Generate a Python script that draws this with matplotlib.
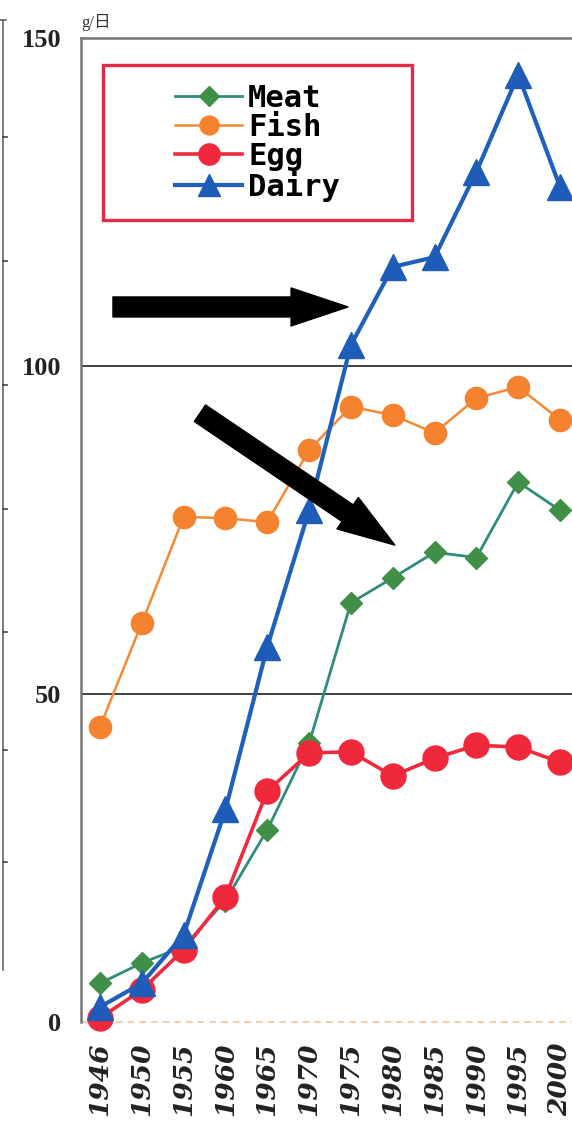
import matplotlib
matplotlib.use("Agg")
import numpy as np
import matplotlib.pyplot as plt
from matplotlib.lines import Line2D
from matplotlib.patches import Rectangle

# Daily intake per person (g/day) by survey year
years = ["1946", "1950", "1955", "1960", "1965", "1970",
         "1975", "1980", "1985", "1990", "1995", "2000"]
meat = [5.9, 9.0, 11.5, 18.5, 29.3, 42.5, 63.9, 67.7, 71.6, 70.8, 82.3, 78.0]
fish = [45.0, 60.8, 77.0, 76.8, 76.2, 87.2, 93.8, 92.5, 89.8, 95.1, 96.8, 91.8]
egg = [0.6, 4.9, 11.0, 19.1, 35.2, 41.0, 41.2, 37.5, 40.2, 42.2, 41.9, 39.6]
dairy = [2.3, 5.9, 13.3, 32.4, 57.2, 78.0, 103.2, 115.1, 116.6, 129.6, 144.4, 127.3]
yticks = [0, 50, 100, 150]

W, H = 572, 1128
fig = plt.figure(figsize=(W / 100, H / 100), dpi=100)


def fx(px):
    return px / W


def fy(py):
    return 1 - py / H


ax = fig.add_axes([fx(81), fy(1022), fx(600) - fx(81), fy(38) - fy(1022)])
x = np.arange(len(years))
step = 41.82
ax.set_xlim(-(100 - 81) / step, (600 - 100) / step)
ax.set_ylim(0, 150)

ax.plot(x, meat, color="#2f8c7c", lw=2.0, marker="D", ms=11.5,
        mfc="#3f8f47", mec="#3f8f47", label="Meat", clip_on=False, zorder=3)
ax.plot(x, fish, color="#f58a35", lw=1.8, marker="o", ms=16,
        mfc="#f5822e", mec="#f5822e", label="Fish", clip_on=False, zorder=3)
ax.plot(x, egg, color="#ee2a3e", lw=2.6, marker="o", ms=18,
        mfc="#f0283c", mec="#f0283c", label="Egg", clip_on=False, zorder=3)
ax.plot(x, dairy, color="#2060bd", lw=3.0, marker="^", ms=19,
        mfc="#1f5cb8", mec="#1f5cb8", label="Dairy", clip_on=False, zorder=3)

# reference lines
for v in (50, 100):
    ax.axhline(v, color="#333333", lw=1.3, zorder=1)
ax.axhline(0, color="#f3c395", lw=1.2, ls=(0, (4, 3)), zorder=1, clip_on=False)

for s in ("right", "bottom"):
    ax.spines[s].set_visible(False)
for s in ("left", "top"):
    ax.spines[s].set_color("#777777")
    ax.spines[s].set_linewidth(1.8)

ax.set_yticks(yticks)
ax.set_yticklabels([str(v) for v in yticks], fontfamily="Liberation Serif",
                   fontweight="bold", fontsize=19, color="#222222")
ax.tick_params(axis="y", length=0, pad=14)

ax.set_xticks(x)
ax.set_xticklabels(years, rotation=90, fontfamily="DejaVu Serif",
                   fontweight="bold", fontstyle="italic", fontsize=19,
                   color="#222222")
ax.tick_params(axis="x", length=0, pad=15)

# arrows
arrow_style = "simple,head_length=2.05,head_width=1.37,tail_width=0.72"
ax.annotate("", xy=(5.93, 109.0), xytext=(0.31, 109.0),
            arrowprops=dict(arrowstyle=arrow_style, color="black",
                            mutation_scale=20, shrinkA=0, shrinkB=0),
            zorder=5)
ax.annotate("", xy=(7.05, 72.7), xytext=(2.39, 92.8),
            arrowprops=dict(arrowstyle=arrow_style, color="black",
                            mutation_scale=20, shrinkA=0, shrinkB=0),
            zorder=5)

# unit label
fig.text(fx(81), fy(31), "g/日", family=["Liberation Serif", "Noto Sans CJK JP"],
         fontsize=12, color="#333333", va="bottom", ha="left")

# legend with red box
ax.legend(loc="center", bbox_to_anchor=(fx(257.5), fy(143)),
          bbox_transform=fig.transFigure, frameon=False,
          prop=dict(family="DejaVu Sans Mono", weight="bold", size=22),
          handlelength=2.2, handletextpad=0.2, labelspacing=0.0,
          borderpad=0, markerscale=0.85)
fig.add_artist(Rectangle((fx(103), fy(220)), fx(412) - fx(103), fy(65) - fy(220),
                         transform=fig.transFigure, fill=False,
                         ec="#e52a45", lw=2.4))

# edge of neighbouring panel
fig.add_artist(Line2D([fx(3), fx(3)], [fy(20), fy(970)], color="#666666", lw=1.2))
fig.add_artist(Line2D([fx(0), fx(6)], [fy(20), fy(20)], color="#666666", lw=1.2))
for ty in (137, 261, 385, 509, 632, 750, 862):
    fig.add_artist(Line2D([fx(3), fx(7)], [fy(ty), fy(ty)], color="#444444", lw=1.2))

fig.savefig("out.png", dpi=100)
